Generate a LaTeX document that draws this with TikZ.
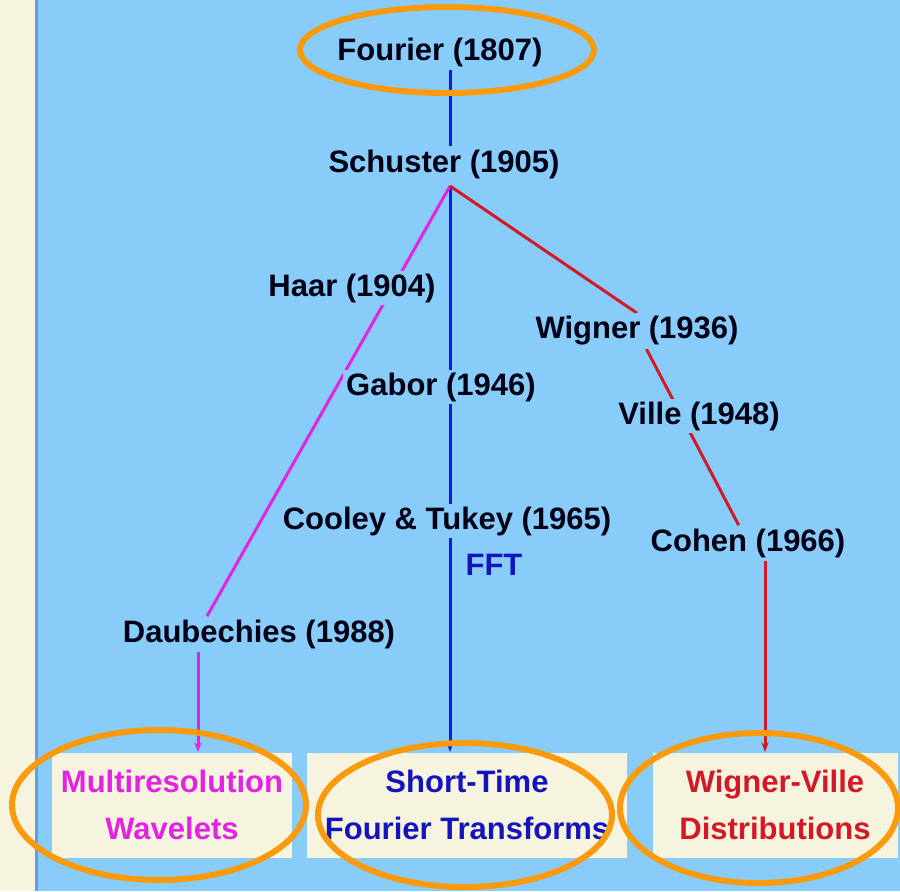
\documentclass[tikz,border=0pt]{standalone}
\usepackage{fontspec}
\setmainfont{Liberation Sans}
\usetikzlibrary{arrows.meta,backgrounds,calc}
\definecolor{sky}{RGB}{136,205,249}
\definecolor{cream}{RGB}{246,244,222}
\definecolor{rim}{RGB}{105,155,232}
\definecolor{hilite}{RGB}{250,155,15}
\definecolor{wavemag}{RGB}{226,36,226}
\definecolor{ftblue}{RGB}{24,24,222}
\definecolor{wvred}{RGB}{212,25,38}
\begin{document}
\begin{tikzpicture}[x=.5pt,y=-.5pt,
  who/.style={fill=sky,inner sep=1.5pt,text=black!92!blue,font=\bfseries\fontsize{15.5}{19}\selectfont},
  field/.style={fill=cream,inner sep=0pt,minimum height=52.5pt,align=center,font=\bfseries\fontsize{15.5}{23.5}\selectfont},
  link/.style={line width=1.5pt},
  lead/.style={link,-{Stealth[length=5pt,width=3.6pt]}},
  ring/.style={draw=hilite,line width=3pt}]
\useasboundingbox (0,0) rectangle (900,891);
\node[who] (fourier) at (440,52) {Fourier (1807)};
\node[who] (schuster) at (444,164) {Schuster (1905)};
\node[who] (haar) at (352,288) {Haar (1904)};
\node[who] (gabor) at (441,387) {Gabor (1946)};
\node[who] (wigner) at (637,331) {Wigner (1936)};
\node[who] (ville) at (699,416) {Ville (1948)};
\node[who] (cooley) at (447,521) {Cooley \& Tukey (1965)};
\node[who,text=ftblue!85!black] (fft) at (494,565) {FFT};
\node[who] (cohen) at (748,543) {Cohen (1966)};
\node[who] (daub) at (259,634) {Daubechies (1988)};
\node[field,minimum width=120pt,text=wavemag] (mra) at (172,805) {Multiresolution\\Wavelets};
\node[field,minimum width=160pt,text=ftblue!85!black] (stft) at (467,805) {Short-Time\\Fourier Transforms};
\node[field,minimum width=122.5pt,text=wvred] (wvd) at (775,805) {Wigner-Ville\\Distributions};
\coordinate (split) at (450,186); \coordinate (wl) at (198,0); \coordinate (cl) at (765,0);
\begin{pgfonlayer}{background}
\fill[cream] (0,0) rectangle (900,891); \fill[sky] (37,0) rectangle (900,891);
\draw[rim,link] (36,0) -- (36,891);
\draw[ftblue,link] (fourier.south -| split) -- (schuster.north -| split);
\draw[ftblue,lead] (split) -- (stft.north -| split);
\draw[wavemag,link] (split) -- ($(daub.north)+(-52,0)$);
\draw[wavemag,lead] (daub.south -| wl) -- (mra.north -| wl);
\draw[wvred,link] (split) -- (wigner.north) (wigner) -- (cohen);
\draw[wvred,lead] (cohen.south -| cl) -- (wvd.north -| cl);
\end{pgfonlayer}
\draw[ring] (447,50) ellipse [x radius=147,y radius=43];
\draw[ring] (159,805) ellipse [x radius=147,y radius=75];
\draw[ring] (465,815) ellipse [x radius=147,y radius=72];
\draw[ring] (759,808) ellipse [x radius=139,y radius=75];
\end{tikzpicture}
\end{document}
